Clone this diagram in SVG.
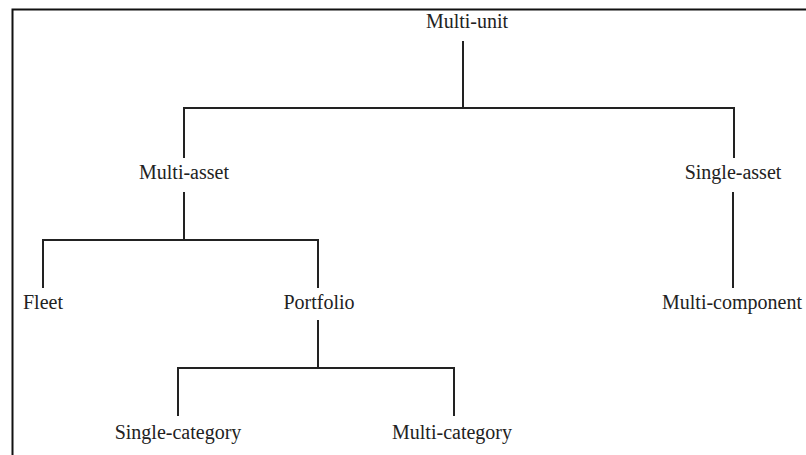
<svg xmlns="http://www.w3.org/2000/svg" width="806" height="455" viewBox="0 0 806 455">
<style>
.lbl{font-family:"Liberation Serif","Times New Roman",serif;font-size:20px;fill:#222;text-anchor:middle}
.ln{stroke:#222;stroke-width:2;fill:none;stroke-linecap:square}
</style>
<rect x="0" y="0" width="806" height="455" fill="#fff"/>
<path d="M12.5,455 V9.5 H806" stroke="#111" stroke-width="2" fill="none"/>
<g id="connectors" class="ln">
<path class="ln" d="M463,42 V108"/>
<path class="ln" d="M184,157 V108 H734 V157"/>
<path class="ln" d="M184,193 V240"/>
<path class="ln" d="M43,287 V240 H318 V287"/>
<path class="ln" d="M733,193 V287"/>
<path class="ln" d="M318,321 V368"/>
<path class="ln" d="M178,415 V368 H454 V415"/>
</g>
<g id="multi-unit"><text class="lbl" x="467" y="28">Multi-unit</text></g>
<g id="multi-asset"><text class="lbl" x="184" y="179">Multi-asset</text></g>
<g id="single-asset"><text class="lbl" x="733" y="179">Single-asset</text></g>
<g id="fleet"><text class="lbl" x="43" y="309">Fleet</text></g>
<g id="portfolio"><text class="lbl" x="319" y="309">Portfolio</text></g>
<g id="multi-component"><text class="lbl" x="732" y="309">Multi-component</text></g>
<g id="single-category"><text class="lbl" x="178" y="439">Single-category</text></g>
<g id="multi-category"><text class="lbl" x="452" y="439">Multi-category</text></g>
</svg>
